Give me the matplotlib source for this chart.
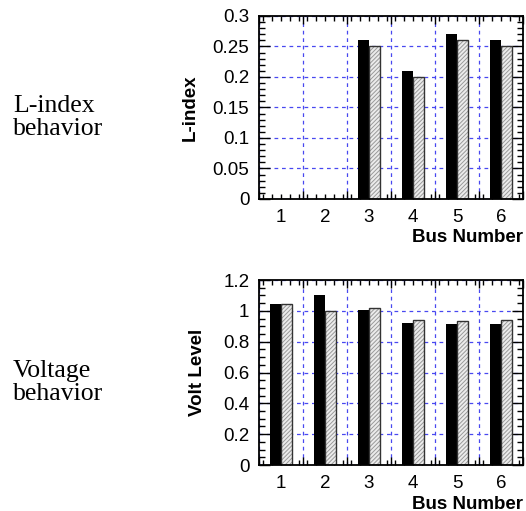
import numpy as np
import matplotlib
matplotlib.use("Agg")
import matplotlib.pyplot as plt
from matplotlib.ticker import MultipleLocator, FormatStrFormatter
import matplotlib.transforms as mtransforms

plt.rcParams['font.family'] = ['Liberation Sans', 'DejaVu Sans']
plt.rcParams['hatch.linewidth'] = 0.7

buses = [1, 2, 3, 4, 5, 6]
lindex_a = [0.0, 0.0, 0.26, 0.21, 0.27, 0.26]
lindex_b = [0.0, 0.0, 0.25, 0.20, 0.26, 0.25]
volt_a = [1.045, 1.105, 1.005, 0.923, 0.912, 0.912]
volt_b = [1.045, 1.00, 1.02, 0.938, 0.932, 0.938]

panels = [
    ("L-index\nbehavior", "L-index", lindex_a, lindex_b, 0.3, 0.05, 0.01, 10),
    ("Voltage\nbehavior", "Volt Level", volt_a, volt_b, 1.2, 0.2, 0.05, 12),
]
rects = [[0.4924, 0.6106, 0.5019, 0.3581], [0.4924, 0.0900, 0.5019, 0.3620]]
side_y = [0.770, 0.252]

fig = plt.figure(figsize=(5.26, 5.11), dpi=100)
px = 0.72
x = np.array(buses, dtype=float)
fs = 13.5

for (side, ylab, a, b, ymax, major, minor, lpad), rect, sy in zip(panels, rects, side_y):
    ax = fig.add_axes(rect)
    ax.bar(x - 0.125, a, width=0.25, color='black', linewidth=0, zorder=3)
    ax.bar(x + 0.125, b, width=0.25, facecolor='#ececec', edgecolor='#9a9a9a',
           hatch='////////', linewidth=0, zorder=3)
    ax.bar(x + 0.125, b, width=0.25, fill=False, edgecolor='#333333',
           linewidth=1.0, zorder=3)
    ax.set_xlim(0.5, 6.5)
    ax.set_ylim(0, ymax)

    ax.set_xticks(np.arange(0.5, 6.6, 1.0))
    ax.set_xticklabels([])
    ax.xaxis.set_minor_locator(MultipleLocator(0.2))
    ax.yaxis.set_major_locator(MultipleLocator(major))
    ax.yaxis.set_minor_locator(MultipleLocator(minor))
    ax.yaxis.set_major_formatter(FormatStrFormatter('%g'))

    ax.tick_params(which='both', direction='in', top=True, right=True,
                   width=1.0, colors='black', zorder=4)
    ax.tick_params(axis='x', which='major', length=8 * px)
    ax.tick_params(axis='x', which='minor', length=5 * px)
    ax.tick_params(axis='y', which='major', length=11 * px, labelsize=fs, pad=7)
    ax.tick_params(axis='y', which='minor', length=6 * px)

    trans = mtransforms.blended_transform_factory(ax.transData, ax.transAxes)
    for bus in buses:
        ax.text(bus, -0.055, str(bus), transform=trans, ha='center', va='top',
                fontsize=fs)

    ax.grid(True, which='major', color='#4848f0', linestyle=(0, (3, 3)),
            linewidth=0.9, zorder=1)
    for sp in ax.spines.values():
        sp.set_linewidth(1.3)
        sp.set_zorder(5)

    ax.set_ylabel(ylab, fontsize=fs, fontweight='bold', labelpad=lpad)
    ax.text(1.0, -0.165, "Bus Number", transform=ax.transAxes, ha='right',
            va='top', fontsize=fs, fontweight='bold')

    fig.text(0.025, sy, side, ha='left', va='center', fontsize=18.5,
             family=['Liberation Serif', 'DejaVu Serif'], linespacing=1.05)

fig.savefig("out.png", dpi=100)
